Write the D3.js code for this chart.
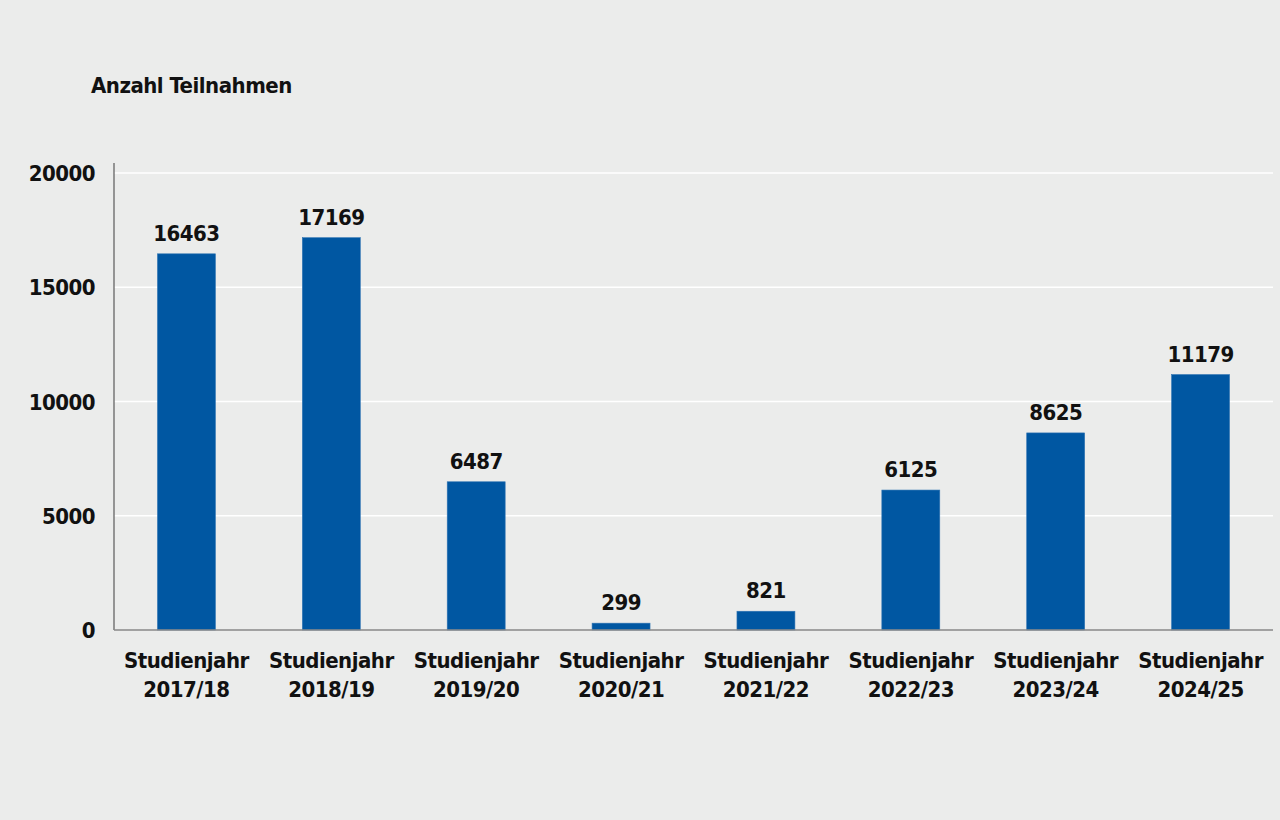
<!DOCTYPE html>
<html><head><meta charset="utf-8">
<script src="https://cdn.jsdelivr.net/npm/d3@7"></script>
<style>
html,body{margin:0;padding:0;background:#ebeceb;}
text{font-family:"Liberation Sans Narrow","DejaVu Sans Condensed",sans-serif;font-weight:bold;fill:#111;letter-spacing:-0.5px;}
</style></head>
<body>
<svg id="c" width="1280" height="820"></svg>
<script>
const categoriesLine1 = ["Studienjahr","Studienjahr","Studienjahr","Studienjahr","Studienjahr","Studienjahr","Studienjahr","Studienjahr"];
const categoriesLine2 = ["2017/18","2018/19","2019/20","2020/21","2021/22","2022/23","2023/24","2024/25"];
const values = [16463, 17169, 6487, 299, 821, 6125, 8625, 11179];
const valueLabels = ["16463","17169","6487","299","821","6125","8625","11179"];
const yTicks = [0, 5000, 10000, 15000, 20000];
const yTitle = "Anzahl Teilnahmen";

const svg = d3.select("#c");
const mLeft = 114, mRight = 1273, mTop = 173, mBottom = 630;

const x = d3.scaleBand().domain(categoriesLine2).range([mLeft, mRight]).padding(0);
const y = d3.scaleLinear().domain([0, 20000]).range([mBottom, mTop]);
const bw = x.bandwidth() * 0.4;

// gridlines
svg.append("g").selectAll("line").data(yTicks.filter(d => d > 0)).join("line")
  .attr("x1", mLeft).attr("x2", mRight)
  .attr("y1", d => y(d)).attr("y2", d => y(d))
  .attr("stroke", "#ffffff").attr("stroke-width", 1.5);

// bars
svg.append("g").selectAll("rect").data(values).join("rect")
  .attr("x", (d, i) => x(categoriesLine2[i]) + x.bandwidth() / 2 - bw / 2)
  .attr("width", bw)
  .attr("y", d => y(d))
  .attr("height", d => mBottom - y(d))
  .attr("fill", "#0057a2")
  .attr("stroke", "#2f74b3").attr("stroke-width", 0.6);

// value labels
svg.append("g").selectAll("text").data(values).join("text")
  .attr("x", (d, i) => x(categoriesLine2[i]) + x.bandwidth() / 2)
  .attr("y", d => y(d) - 13)
  .attr("text-anchor", "middle")
  .attr("font-size", 22)
  .text((d, i) => valueLabels[i]);

// axes lines
svg.append("line").attr("x1", mLeft).attr("x2", mLeft).attr("y1", 163).attr("y2", mBottom)
  .attr("stroke", "#777").attr("stroke-width", 1.5);
svg.append("line").attr("x1", mLeft).attr("x2", mRight).attr("y1", mBottom).attr("y2", mBottom)
  .attr("stroke", "#888").attr("stroke-width", 1.5);

// y tick labels
svg.append("g").selectAll("text").data(yTicks).join("text")
  .attr("x", 95).attr("y", d => y(d) + 8)
  .attr("text-anchor", "end").attr("font-size", 22)
  .text(d => String(d));

// x labels
const xl = svg.append("g").selectAll("text").data(categoriesLine2).join("text")
  .attr("text-anchor", "middle").attr("font-size", 22);
xl.append("tspan").attr("x", d => x(d) + x.bandwidth() / 2).attr("y", 668).text((d, i) => categoriesLine1[i]);
xl.append("tspan").attr("x", d => x(d) + x.bandwidth() / 2).attr("y", 697).text(d => d);

// title
svg.append("text").attr("x", 91).attr("y", 93).attr("font-size", 22).text(yTitle);
</script>
</body></html>
